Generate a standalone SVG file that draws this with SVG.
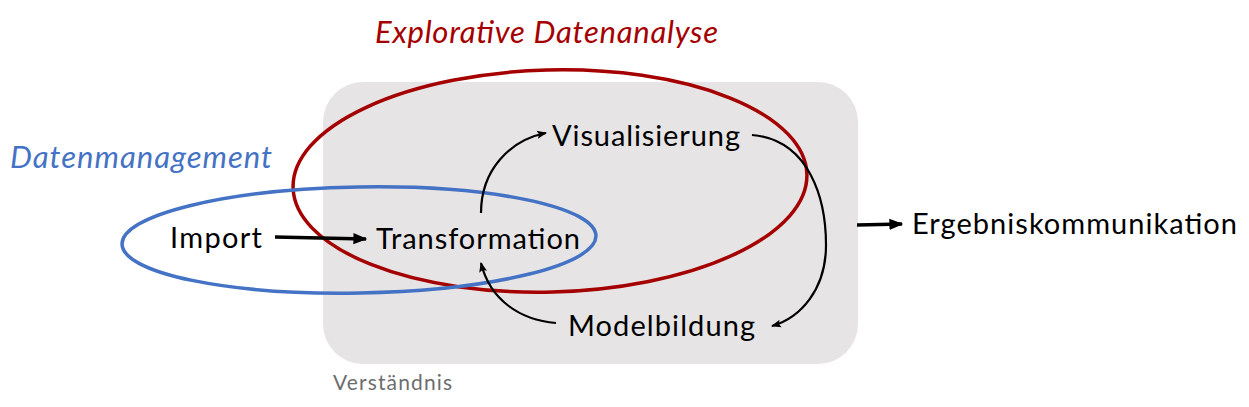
<svg xmlns="http://www.w3.org/2000/svg" width="1249" height="407" viewBox="0 0 1249 407">
<defs>
<style>
.lbl{font-family:Lato,"Noto Sans",sans-serif;font-size:29px;fill:#000}
.ttl{font-family:Lato,"Noto Sans",sans-serif;font-size:31px;font-style:italic}
.con{fill:none;stroke:#000;stroke-width:2.2}
.thick{fill:none;stroke:#000;stroke-width:3.5}
</style>
<marker id="ah" viewBox="0 0 10 10" refX="9" refY="5" markerWidth="10" markerHeight="10" markerUnits="userSpaceOnUse" orient="auto">
<path d="M0,1 L10,5 L0,9 L2,5 z" fill="#000"/>
</marker>
<marker id="ahb" viewBox="0 0 10 10" refX="9" refY="5" markerWidth="14" markerHeight="14" markerUnits="userSpaceOnUse" orient="auto">
<path d="M0,1 L10,5 L0,9 z" fill="#000"/>
</marker>
</defs>
<rect x="0" y="0" width="1249" height="407" fill="#fff"/>
<g id="verstaendnis">
<rect x="323" y="82" width="535" height="282" rx="40" ry="40" fill="#e6e4e5"/>
<text x="333" y="390" font-family="Lato,'Noto Sans',sans-serif" font-size="21" fill="#6d6d6d" textLength="119">Verständnis</text>
</g>
<g id="eda">
<ellipse cx="550" cy="181" rx="257" ry="111" fill="none" stroke="#a50000" stroke-width="3.5" transform="rotate(-1.5 550 181)"/>
<text class="ttl" x="375" y="43" fill="#a50000" textLength="343">Explorative Datenanalyse</text>
</g>
<g id="datenmanagement">
<ellipse cx="359" cy="240" rx="237" ry="53" fill="none" stroke="#4472c4" stroke-width="3.5" transform="rotate(-1 359 240)"/>
<text class="ttl" x="10" y="168" fill="#4472c4" textLength="262">Datenmanagement</text>
</g>
<g id="import"><text class="lbl" x="170" y="248" textLength="92">Import</text></g>
<g id="transformation"><text class="lbl" x="376" y="249" textLength="204">Transformation</text></g>
<g id="visualisierung"><text class="lbl" x="552" y="146" textLength="188">Visualisierung</text></g>
<g id="modelbildung"><text class="lbl" x="568" y="336" textLength="187">Modelbildung</text></g>
<g id="ergebnis"><text class="lbl" x="912" y="234" textLength="325">Ergebniskommunikation</text></g>
<g id="connectors">
<path class="thick" d="M275,237 L366,239" marker-end="url(#ahb)"/>
<path class="thick" d="M857,225 L902,224" marker-end="url(#ahb)"/>
<path class="con" d="M481,213 C481,170 510,140 546,133" marker-end="url(#ah)"/>
<path class="con" d="M752,135 C810,140 826,200 826,245 C826,290 800,318 772,326" marker-end="url(#ah)"/>
<path class="con" d="M556,323 C520,320 490,300 481,263" marker-end="url(#ah)"/>
</g>
</svg>
